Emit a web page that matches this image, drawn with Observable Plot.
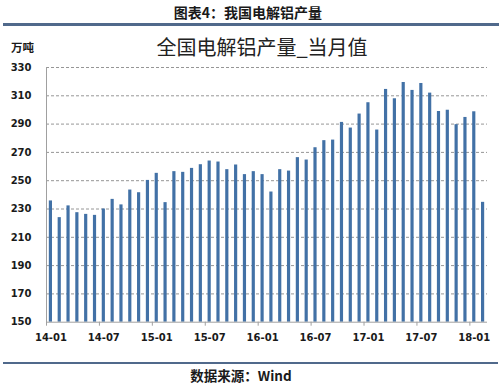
<!DOCTYPE html>
<html><head><meta charset="utf-8">
<script src="https://cdn.jsdelivr.net/npm/d3@7"></script>
<script src="https://cdn.jsdelivr.net/npm/@observablehq/plot@0.6"></script>
<style>
body{margin:0;background:#fff;}
#wrap{position:relative;width:500px;height:387px;overflow:hidden;font-family:"Noto Sans CJK SC","Noto Sans",sans-serif;color:#1a1a1a;}
.abs{position:absolute;white-space:nowrap;line-height:1;}
#chart{position:absolute;left:0;top:0;}
</style></head><body>
<div id="wrap">
  <div id="chart"></div>
  <div class="abs" style="left:0;width:496px;top:5px;text-align:center;font-size:14px;font-weight:bold;">图表4：我国电解铝产量</div>
  <div class="abs" style="left:3px;width:496px;top:23px;height:2.5px;background:#50698b;"></div>
  <div class="abs" style="left:0;width:524px;top:37px;text-align:center;font-size:20px;font-weight:normal;color:#222;">全国电解铝产量_当月值</div>
  <div class="abs" style="left:11px;top:42px;font-size:11.5px;font-weight:bold;">万吨</div>
  <div class="abs" style="left:3px;width:495px;top:362px;height:1.5px;background:#50698b;"></div>
  <div class="abs" style="left:0;width:482px;top:369px;text-align:center;font-size:13.5px;font-weight:bold;">数据来源：Wind</div>
</div>
<script>
const months = ["14-01","14-02","14-03","14-04","14-05","14-06","14-07","14-08","14-09","14-10","14-11","14-12",
"15-01","15-02","15-03","15-04","15-05","15-06","15-07","15-08","15-09","15-10","15-11","15-12",
"16-01","16-02","16-03","16-04","16-05","16-06","16-07","16-08","16-09","16-10","16-11","16-12",
"17-01","17-02","17-03","17-04","17-05","17-06","17-07","17-08","17-09","17-10","17-11","17-12",
"18-01","18-02"];
const output = [235.7,223.9,232.2,227.4,226.2,225.5,230.0,236.8,232.9,243.4,241.5,250.2,
255.2,234.5,256.4,255.9,258.7,261.3,263.9,263.2,257.8,261.1,254.3,256.4,
254.3,242.0,257.8,256.8,266.3,264.6,273.3,278.3,278.7,291.2,287.2,297.1,
305.1,285.8,314.5,307.9,319.4,313.8,318.7,311.9,298.9,299.8,289.6,294.7,
298.7,234.7];
const xTickLabels = ["14-01","14-07","15-01","15-07","16-01","16-07","17-01","17-07","18-01"];
const yTicks = [150,170,190,210,230,250,270,290,310,330];

const data = months.map((m,i)=>({month:m, value:output[i]}));
const W = 500, ML = 46, MR = 13;
const step = (W - ML - MR) / months.length;
const font = "DejaVu Sans, sans-serif";

const chart = Plot.plot({
  width: W, height: 387,
  marginTop: 67, marginBottom: 65.3, marginLeft: ML, marginRight: MR,
  style: {background: "transparent", fontFamily: font},
  x: {type: "band", domain: months, paddingInner: 0.64, paddingOuter: 0.32, label: null},
  y: {domain: [150, 330], label: null},
  marks: [
    Plot.gridY(yTicks.filter(v => v > 150), {stroke: "#8a8a8a", strokeOpacity: 1, strokeWidth: 0.9, strokeDasharray: "3,2"}),
    Plot.barY(data, {x: "month", y1: 150, y2: "value", fill: "#4271a6"}),
    Plot.ruleY([150], {stroke: "#a0a0a0"}),
    Plot.frame({anchor: "left", stroke: "#a0a0a0"}),
    Plot.axisY({ticks: yTicks, tickSize: 0, tickPadding: 15, fontSize: 10, fontWeight: "bold", fill: "#1a1a1a", label: null}),
    Plot.axisX({ticks: xTickLabels, tickSize: 0, tickPadding: 12, fontSize: 10, fontWeight: "bold", fill: "#1a1a1a", label: null}),
    Plot.axisX({ticks: xTickLabels, tickSize: 4, tickFormat: () => "", dx: -step / 2, stroke: "#a0a0a0", label: null})
  ]
});
document.getElementById("chart").appendChild(chart);
</script>
</body></html>
